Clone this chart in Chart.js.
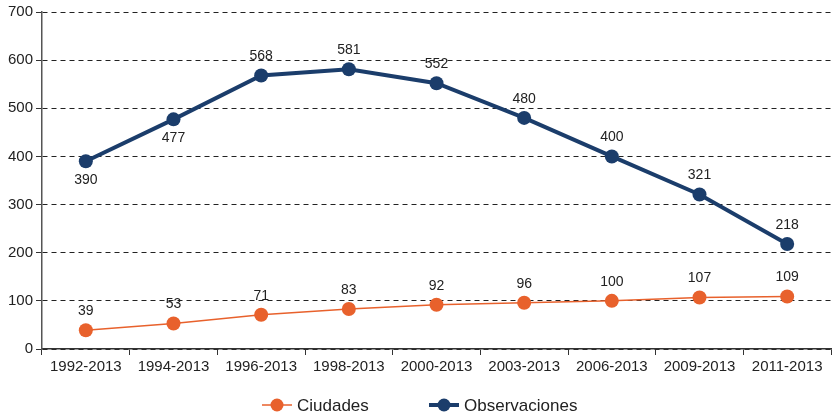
<!DOCTYPE html>
<html>
<head>
<meta charset="utf-8">
<script src="https://cdn.jsdelivr.net/npm/chart.js@4/dist/chart.umd.min.js"></script>
<style>
  body { margin: 0; background: #fff; }
  #wrap { width: 832px; height: 415px; }
</style>
</head>
<body>
<div id="wrap"><canvas id="myChart"></canvas></div>
<script>
const categories = ['1992-2013', '1994-2013', '1996-2013', '1998-2013', '2000-2013', '2003-2013', '2006-2013', '2009-2013', '2011-2013'];
const ciudades = [39, 53, 71, 83, 92, 96, 100, 107, 109];
const observaciones = [390, 477, 568, 581, 552, 480, 400, 321, 218];
const yTicks = [0, 100, 200, 300, 400, 500, 600, 700];
// labels below the point for these observaciones indexes
const obsBelow = [0, 1];

const navy = '#1b3d6b';
const orange = '#e8612c';
const font = 'Liberation Sans, Arial, sans-serif';

const valueLabels = {
    id: 'valueLabels',
    afterDatasetsDraw(chart) {
        const ctx = chart.ctx;
        ctx.save();
        ctx.font = '14px ' + font;
        ctx.fillStyle = '#222';
        ctx.textAlign = 'center';
        ctx.textBaseline = 'middle';
        chart.data.datasets.forEach((ds, i) => {
            const meta = chart.getDatasetMeta(i);
            meta.data.forEach((pt, j) => {
                let dy = -19;
                if (ds.label === 'Observaciones' && obsBelow.includes(j)) dy = 19;
                ctx.fillText(ds.data[j], pt.x, pt.y + dy);
            });
        });
        ctx.restore();
    }
};

const bottomLegend = {
    id: 'bottomLegend',
    afterDraw(chart) {
        const ctx = chart.ctx;
        const y = 405;
        const items = [
            { label: 'Ciudades', color: orange, width: 1.5, x: 262 },
            { label: 'Observaciones', color: navy, width: 4, x: 429 }
        ];
        ctx.save();
        ctx.font = '17px ' + font;
        ctx.textBaseline = 'middle';
        items.forEach(it => {
            ctx.strokeStyle = it.color;
            ctx.lineWidth = it.width;
            ctx.beginPath();
            ctx.moveTo(it.x, y);
            ctx.lineTo(it.x + 30, y);
            ctx.stroke();
            ctx.fillStyle = it.color;
            ctx.beginPath();
            ctx.arc(it.x + 15, y, 6.5, 0, Math.PI * 2);
            ctx.fill();
            ctx.fillStyle = '#222';
            ctx.fillText(it.label, it.x + 35, y + 1);
        });
        ctx.restore();
    }
};

const ctx = document.getElementById('myChart');
new Chart(ctx, {
    type: 'line',
    data: {
        labels: categories,
        datasets: [{
            label: 'Ciudades',
            data: ciudades,
            borderColor: orange,
            backgroundColor: orange,
            borderWidth: 1.5,
            pointRadius: 7,
            pointHoverRadius: 7,
            pointBorderWidth: 0,
            tension: 0
        }, {
            label: 'Observaciones',
            data: observaciones,
            borderColor: navy,
            backgroundColor: navy,
            borderWidth: 4,
            pointRadius: 7,
            pointHoverRadius: 7,
            pointBorderWidth: 0,
            tension: 0
        }]
    },
    options: {
        responsive: true,
        maintainAspectRatio: false,
        animation: false,
        layout: { autoPadding: false, padding: { top: 11, right: 1, bottom: 36, left: 0 } },
        plugins: {
            legend: { display: false },
            tooltip: { enabled: false }
        },
        scales: {
            x: {
                offset: true,
                afterFit(scale) {
                    scale.height = 30;
                    scale.paddingLeft = 0;
                    scale.paddingRight = 0;
                },
                grid: {
                    offset: true,
                    drawOnChartArea: false,
                    tickLength: 6,
                    color: '#333'
                },
                border: { color: '#333', width: 1.5 },
                ticks: {
                    color: '#222',
                    font: { family: font, size: 15 },
                    padding: 3,
                    maxRotation: 0
                }
            },
            y: {
                min: 0,
                max: 700,
                afterFit(scale) { scale.width = 42; },
                afterBuildTicks(scale) { scale.ticks = yTicks.map(v => ({ value: v })); },
                grid: {
                    color: '#222',
                    tickLength: 6,
                    tickColor: '#333',
                    tickBorderDash: []
                },
                border: { color: '#555', width: 1.5, dash: [5, 4] },
                ticks: {
                    color: '#222',
                    font: { family: font, size: 15 },
                    padding: 3
                }
            }
        }
    },
    plugins: [valueLabels, bottomLegend]
});
</script>
</body>
</html>
